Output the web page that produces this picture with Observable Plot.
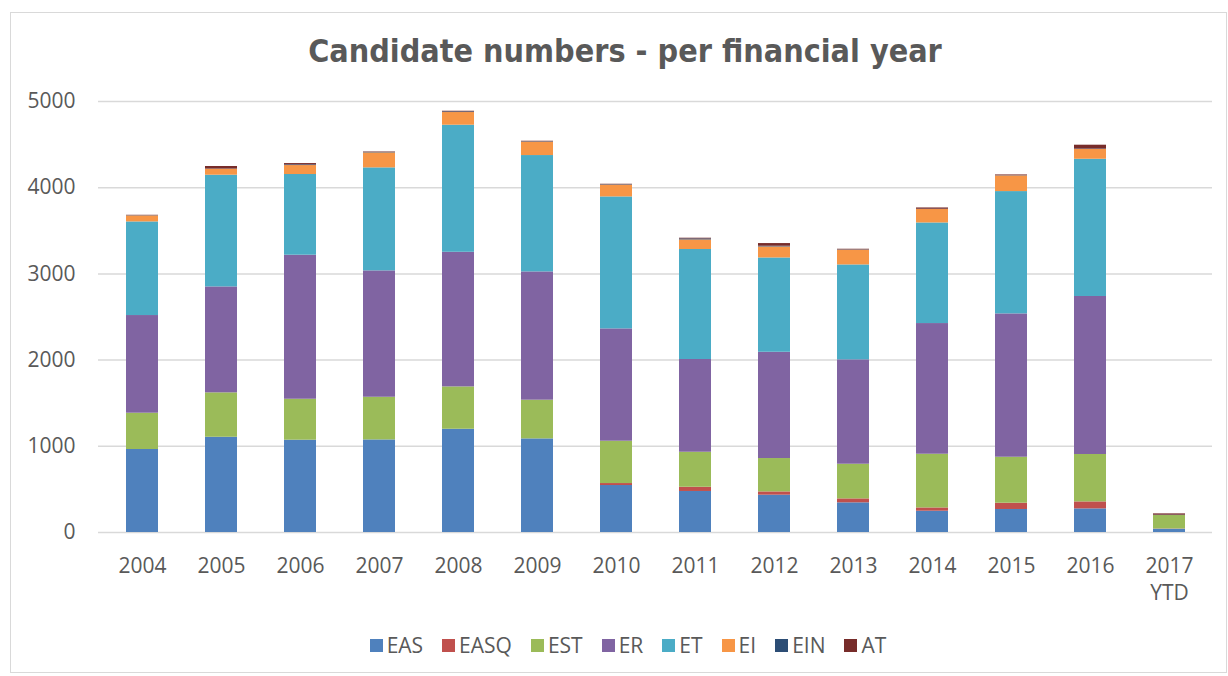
<!DOCTYPE html>
<html><head><meta charset="utf-8">
<script src="https://cdn.jsdelivr.net/npm/d3@7"></script>
<script src="https://cdn.jsdelivr.net/npm/@observablehq/plot@0.6"></script>
<style>
body{margin:0;background:#fff;}
#wrap{position:relative;width:1228px;height:676px;overflow:hidden;font-family:"Open Sans",sans-serif;background:#fff;}
#frame{position:absolute;left:10px;top:12px;width:1217px;height:661px;border:1.5px solid #d9d9d9;box-sizing:border-box;}
#title{position:absolute;top:31px;left:0;width:1250px;text-align:center;font-family:"DejaVu Sans Condensed","DejaVu Sans",sans-serif;font-stretch:condensed;font-weight:bold;font-size:32px;line-height:40px;color:#595959;}
#chart{position:absolute;left:0;top:0;}
#legend{position:absolute;top:630px;left:0;width:1256px;display:flex;justify-content:center;gap:19px;font-size:21px;line-height:30px;color:#595959;}
#legend .it{display:flex;align-items:center;gap:4px;}
#legend .sw{width:13px;height:13px;display:inline-block;}
</style></head>
<body><div id="wrap"><div id="frame"></div><div id="chart"></div><div id="title">Candidate numbers - per financial year</div><div id="legend"></div></div>
<script>
const years = ["2004","2005","2006","2007","2008","2009","2010","2011","2012","2013","2014","2015","2016","2017 YTD"];
const series = ["EAS","EASQ","EST","ER","ET","EI","EIN","AT"];
const colors = ["#4F81BD","#C0504D","#9BBB59","#8064A2","#4BACC6","#F79646","#2C4D75","#772C2A"];
const EAS  = [963,1105,1071,1074,1198,1086,545,476,433,344,247,267,274,38];
const EASQ = [0,0,0,0,0,0,23,49,38,46,38,73,81,3];
const EST  = [421,515,475,495,491,449,491,406,387,402,623,533,550,156];
const ER   = [1133,1229,1671,1466,1562,1488,1303,1076,1233,1211,1516,1663,1833,0];
const ET   = [1086,1296,936,1195,1474,1350,1531,1276,1094,1101,1167,1419,1592,0];
const EI   = [70,69,104,174,147,155,136,111,128,171,156,182,113,0];
const EIN  = [3,2,8,6,8,5,5,12,8,4,3,3,5,4];
const AT   = [4,30,15,5,7,6,6,8,31,7,15,8,45,15];
const yTicks = [0,1000,2000,3000,4000,5000];

const values = {EAS,EASQ,EST,ER,ET,EI,EIN,AT};
const data = [];
series.forEach(s => years.forEach((y,i) => data.push({year:y, series:s, value:values[s][i]})));

const chart = Plot.plot({
  width:1228, height:610,
  marginLeft:98, marginRight:16, marginTop:101, marginBottom:78,
  style:{fontFamily:"'Open Sans',sans-serif", fontSize:"21px", color:"#595959", background:"transparent"},
  x:{domain:years, paddingInner:0.6, paddingOuter:0.3, label:null},
  y:{domain:[0,5000], label:null},
  color:{domain:series, range:colors},
  marks:[
    Plot.gridY(yTicks,{stroke:"#d9d9d9", strokeOpacity:1, strokeWidth:1.5}),
    Plot.barY(data,{x:"year", y:"value", fill:"series", order:series}),
    Plot.axisY(yTicks,{tickSize:0, tickPadding:23, fontSize:21, fill:"#595959", label:null, tickFormat:d3.format("d")}),
    Plot.axisX({tickSize:0, tickPadding:21, fontSize:21, lineHeight:1.3, fill:"#595959", label:null, tickFormat:d=>d.replace(" ","\n")})
  ]
});
document.getElementById("chart").appendChild(chart);

const leg = document.getElementById("legend");
series.forEach((s,i)=>{
  const it=document.createElement("div");it.className="it";
  const sw=document.createElement("span");sw.className="sw";sw.style.background=colors[i];
  const t=document.createElement("span");t.textContent=s;
  it.appendChild(sw);it.appendChild(t);leg.appendChild(it);
});
</script></body></html>
